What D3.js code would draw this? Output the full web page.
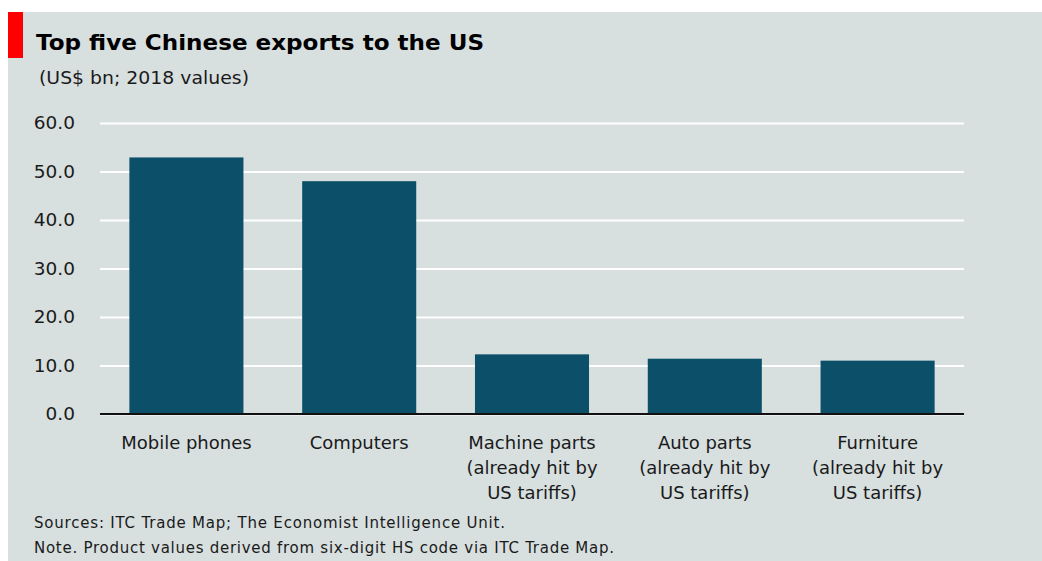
<!DOCTYPE html>
<html>
<head>
<meta charset="utf-8">
<script src="https://cdn.jsdelivr.net/npm/d3@7"></script>
<style>
  html, body { margin: 0; padding: 0; background: #ffffff; }
  svg { display: block; }
  text { font-family: "DejaVu Sans", Verdana, sans-serif; fill: #1a1a1a; }
</style>
</head>
<body>
<svg id="chart" width="1042" height="561"></svg>
<script>
// Top five Chinese exports to the US, US$ bn, 2018
const categories = [
  ["Mobile phones"],
  ["Computers"],
  ["Machine parts", "(already hit by", "US tariffs)"],
  ["Auto parts", "(already hit by", "US tariffs)"],
  ["Furniture", "(already hit by", "US tariffs)"]
];
const values = [52.9, 48.0, 12.3, 11.4, 11.0];
const yTicks = [0, 10, 20, 30, 40, 50, 60];

const title = "Top five Chinese exports to the US";
const subtitle = "(US$ bn; 2018 values)";
const notes = [
  "Sources: ITC Trade Map; The Economist Intelligence Unit.",
  "Note. Product values derived from six-digit HS code via ITC Trade Map."
];
const noteWidths = [471, 580];

const W = 1042, H = 561;
const svg = d3.select("#chart");

// panel background and red tab
svg.append("rect").attr("x", 8).attr("y", 12).attr("width", W - 8).attr("height", H - 12)
  .attr("fill", "#d7dfdf");
svg.append("rect").attr("x", 8).attr("y", 12).attr("width", 15).attr("height", 46)
  .attr("fill", "#ff0000");

svg.append("text").attr("x", 36).attr("y", 50)
  .attr("font-size", 21).attr("font-weight", "bold").style("fill", "#000")
  .attr("textLength", 448).attr("lengthAdjust", "spacingAndGlyphs")
  .text(title);
svg.append("text").attr("x", 39).attr("y", 84)
  .attr("font-size", 18)
  .attr("textLength", 210).attr("lengthAdjust", "spacingAndGlyphs")
  .text(subtitle);

const margin = { left: 100, right: 78, top: 123, bottom: 147 };
const x = d3.scaleBand()
  .domain(d3.range(categories.length))
  .range([margin.left, W - margin.right])
  .paddingInner(0.34).paddingOuter(0.17);
const y = d3.scaleLinear().domain([0, 60]).range([H - margin.bottom, margin.top]);

// gridlines
const grid = svg.append("g")
  .attr("transform", `translate(${margin.left},0)`)
  .call(d3.axisLeft(y).tickValues(yTicks).tickSize(-(W - margin.right - margin.left)).tickFormat(""));
grid.select(".domain").remove();
grid.selectAll(".tick line").attr("stroke", "#ffffff").attr("stroke-width", 2);

// y labels
const yAxis = svg.append("g")
  .attr("transform", `translate(${margin.left - 22},0)`)
  .call(d3.axisLeft(y).tickValues(yTicks).tickSize(0).tickFormat(d3.format(".1f")));
yAxis.select(".domain").remove();
yAxis.selectAll(".tick text").attr("font-size", 18.5).attr("fill", "#1a1a1a")
  .style("font-family", '"DejaVu Sans", Verdana, sans-serif');

// bars
svg.append("g").selectAll("rect").data(values).join("rect")
  .attr("x", (d, i) => x(i))
  .attr("y", d => y(d))
  .attr("width", x.bandwidth())
  .attr("height", d => y(0) - y(d))
  .attr("fill", "#0b4f69");

// baseline
svg.append("line")
  .attr("x1", margin.left).attr("x2", W - margin.right)
  .attr("y1", y(0)).attr("y2", y(0))
  .attr("stroke", "#111111").attr("stroke-width", 2);

// category labels
const cat = svg.append("g").selectAll("text").data(categories).join("text")
  .attr("text-anchor", "middle")
  .attr("font-size", 18)
  .attr("x", (d, i) => x(i) + x.bandwidth() / 2)
  .attr("y", y(0) + 35);
cat.selectAll("tspan").data(d => d).join("tspan")
  .attr("x", function () { return this.parentNode.getAttribute("x"); })
  .attr("dy", (d, i) => i === 0 ? 0 : 25)
  .text(d => d);

// source and note
svg.append("g").selectAll("text").data(notes).join("text")
  .attr("x", 34)
  .attr("y", (d, i) => 528 + i * 25)
  .attr("font-size", 15)
  .attr("textLength", (d, i) => noteWidths[i])
  .attr("lengthAdjust", "spacing")
  .text(d => d);
</script>
</body>
</html>
